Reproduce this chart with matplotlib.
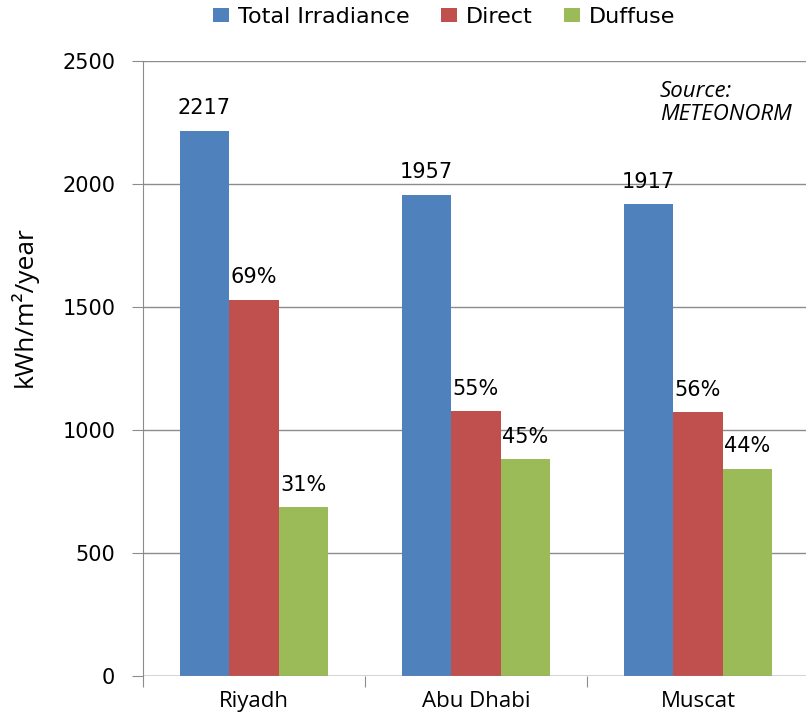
import numpy as np
import matplotlib
matplotlib.use("Agg")
import matplotlib.pyplot as plt
from matplotlib.patches import Patch

cities = ["Riyadh", "Abu Dhabi", "Muscat"]
total = [2217, 1957, 1917]
direct_pct = [69, 55, 56]
diffuse_pct = [31, 45, 44]
series_names = ["Total Irradiance", "Direct", "Duffuse"]
colors = ["#4F81BD", "#C0504D", "#9BBB59"]

total = np.array(total, dtype=float)
direct = total * np.array(direct_pct) / 100.0
diffuse = total * np.array(diffuse_pct) / 100.0

fig = plt.figure(figsize=(8.06, 7.16), dpi=100)
ax = fig.add_axes([143 / 806, 40 / 716, 666 / 806, 615 / 716])

x = np.arange(len(cities))
w = 0.223
grid_col = "#8C8C8C"

heights = [total, direct, diffuse]
labels = [[f"{v:.0f}" for v in total],
          [f"{p}%" for p in direct_pct],
          [f"{p}%" for p in diffuse_pct]]
for i, (h, c, labs) in enumerate(zip(heights, colors, labels)):
    pos = x + (i - 1) * w
    ax.bar(pos, h, width=w, color=c, zorder=2)
    for px, hv, t in zip(pos, h, labs):
        ax.text(px, hv + 50, t, ha="center", va="bottom", fontsize=15,
                family="DejaVu Sans", color="black")

ax.set_xlim(-0.5, 2.5)
ax.set_ylim(0, 2500)
ax.set_yticks(np.arange(0, 2501, 500))
ax.yaxis.grid(True, color=grid_col, linewidth=1.0, zorder=0)
ax.set_axisbelow(True)

for s in ["top", "right", "bottom"]:
    ax.spines[s].set_visible(False)
ax.spines["left"].set_color(grid_col)
ax.axhline(0, color=grid_col, linewidth=1.0, zorder=3)

# category boundaries as ticks, names in the middle
ax.set_xticks([-0.5, 0.5, 1.5, 2.5])
ax.set_xticklabels([])
ax.tick_params(axis="x", length=8, color=grid_col, direction="out")
ax.set_xticks(x, minor=True)
ax.set_xticklabels(cities, minor=True, fontsize=16, family="Open Sans")
ax.tick_params(axis="x", which="minor", length=0, pad=11)
ax.tick_params(axis="y", length=8, color=grid_col, labelsize=15, pad=12)
for lab in ax.get_yticklabels():
    lab.set_family("DejaVu Sans")

ax.set_ylabel("kWh/m²/year", fontsize=19, family="Open Sans")
ax.yaxis.set_label_coords(-0.158, 0.6)

ax.text(0.776, 0.968, "Source:\nMETEONORM", transform=ax.transAxes,
        fontsize=16, style="italic", family="Open Sans", va="top", ha="left",
        linespacing=1.15)

handles = [Patch(facecolor=c, label=n) for c, n in zip(colors, series_names)]
fig.legend(handles=handles, loc="upper center", bbox_to_anchor=(0.551, 1.018),
           ncol=3, frameon=False, handlelength=0.72,
           handleheight=0.6, handletextpad=0.4, columnspacing=1.4,
           prop={"family": "DejaVu Sans", "size": 16})

fig.savefig("out.png", dpi=100)
